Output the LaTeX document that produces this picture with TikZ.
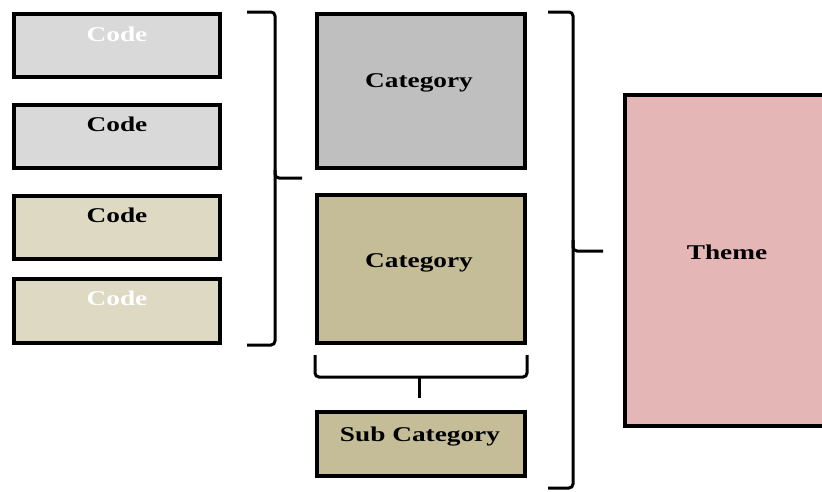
\documentclass[tikz,border=0pt]{standalone}
\usepackage{fontspec}
\newfontfamily\lblfont[FakeStretch=1.3]{Liberation Serif}
\definecolor{codegray}{HTML}{D9D9D9}
\definecolor{codebeige}{HTML}{DDD9C3}
\definecolor{catgray}{HTML}{BFBFBF}
\definecolor{cattan}{HTML}{C4BD97}
\definecolor{themepink}{HTML}{E5B6B6}
\begin{document}
\begin{tikzpicture}[x=1pt,y=-1pt,
  box/.style={draw=black, line width=3.8pt, inner sep=0pt, outer sep=0pt, anchor=north west},
  lbl/.style={font=\lblfont\bfseries\fontsize{21}{21}\selectfont, anchor=base, inner sep=0pt},
  bracket/.style={draw=black, line width=3pt, rounded corners=4pt}]
\clip (0,0) rectangle (822,491);
\fill[white] (0,0) rectangle (822,491);

% codes
\node[box, fill=codegray,  minimum width=206pt, minimum height=63pt] (c1) at (14,14) {};
\node[box, fill=codegray,  minimum width=206pt, minimum height=63pt] (c2) at (14,105) {};
\node[box, fill=codebeige, minimum width=206pt, minimum height=63pt] (c3) at (14,196) {};
\node[box, fill=codebeige, minimum width=206pt, minimum height=64pt] (c4) at (14,279) {};
\node[lbl, white] (c1t) at (117,41) {Code};
\node[lbl]        (c2t) at (117,131) {Code};
\node[lbl]        (c3t) at (117,222) {Code};
\node[lbl, white] (c4t) at (117,305) {Code};

% categories
\node[box, fill=catgray, minimum width=208pt, minimum height=154pt] (k1) at (317,14) {};
\node[box, fill=cattan,  minimum width=208pt, minimum height=148pt] (k2) at (317,195) {};
\node[box, fill=cattan,  minimum width=208pt, minimum height=64pt]  (sc) at (317,412) {};
\node[lbl] (k1t) at (419,87)  {Category};
\node[lbl] (k2t) at (419,267) {Category};
\node[lbl] (sct) at (420,441) {Sub Category};

% theme
\node[box, fill=themepink, minimum width=204pt, minimum height=331pt] (th) at (625,95) {};
\node[lbl] (tht) at (727,259) {Theme};

% brackets
\coordinate (b1tip) at (302,178);
\draw[bracket] (247,12) -- (275,12) -- (275,178) -- (b1tip);
\draw[bracket] (275,170) -- (275,345) -- (247,345);

\coordinate (b2tip) at (419,398);
\draw[bracket] (315,355) -- (315,377) -- (527,377) -- (527,355);
\draw[draw=black, line width=3pt] (419,377) -- (b2tip);

\coordinate (b3tip) at (603,251);
\draw[bracket] (548,12) -- (573,12) -- (573,251) -- (b3tip);
\draw[bracket] (573,240) -- (573,488) -- (548,488);
\end{tikzpicture}
\end{document}
